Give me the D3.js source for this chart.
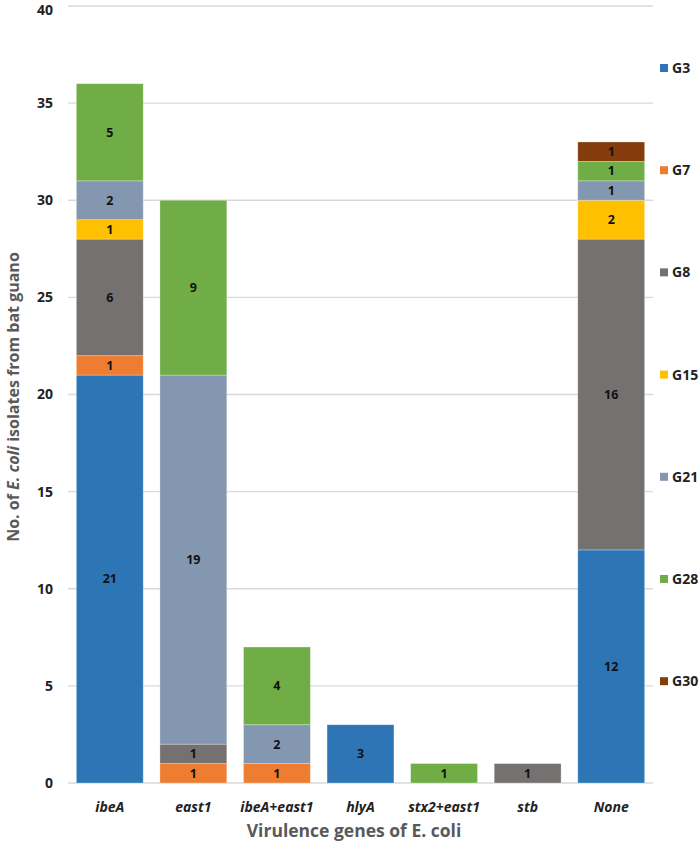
<!DOCTYPE html>
<html><head><meta charset="utf-8">
<script src="https://cdn.jsdelivr.net/npm/d3@7"></script>
<style>body{margin:0;background:#fff;} svg{display:block;font-family:"Open Sans","Liberation Sans",sans-serif;}</style>
</head><body>
<svg id="c" width="700" height="843"></svg>
<script>
const categories = ["ibeA","east1","ibeA+east1","hlyA","stx2+east1","stb","None"];
const seriesNames = ["G3","G7","G8","G15","G21","G28","G30"];
const G3  = [21, 0, 0, 3, 0, 0, 12];
const G7  = [1, 1, 1, 0, 0, 0, 0];
const G8  = [6, 1, 0, 0, 0, 1, 16];
const G15 = [1, 0, 0, 0, 0, 0, 2];
const G21 = [2, 19, 2, 0, 0, 0, 1];
const G28 = [5, 9, 4, 0, 1, 0, 1];
const G30 = [0, 0, 0, 0, 0, 0, 1];
const colors = ["#2E75B6","#ED7D31","#767171","#FFC000","#8497B0","#70AD47","#843C0C"];
const yTicks = [0,5,10,15,20,25,30,35,40];

const seriesVals = [G3,G7,G8,G15,G21,G28,G30];
const rows = categories.map((c,i)=>{const o={cat:c}; seriesNames.forEach((s,j)=>o[s]=seriesVals[j][i]); return o;});
const stack = d3.stack().keys(seriesNames)(rows);

const svg = d3.select("#c");
const x = d3.scaleBand().domain(categories).range([68,653]).paddingInner(0.2).paddingOuter(0.1);
const y = d3.scaleLinear().domain([0,40]).range([783,6]);

// gridlines
svg.append("g").selectAll("line").data(yTicks).join("line")
  .attr("x1",68).attr("x2",653).attr("y1",d=>y(d)).attr("y2",d=>y(d))
  .attr("stroke","#d9d9d9").attr("stroke-width",1.3);

// y tick labels
svg.append("g").selectAll("text").data(yTicks).join("text")
  .attr("x",53).attr("y",d=>Math.max(y(d),10)).attr("dy","0.35em").attr("text-anchor","end")
  .attr("font-size",14).attr("font-weight","bold").attr("fill","#222").text(d=>d);

// bars
const layers = svg.append("g").selectAll("g").data(stack).join("g").attr("fill",(d,i)=>colors[i]);
layers.selectAll("rect").data(d=>d.filter(p=>p[1]-p[0]>0)).join("rect")
  .attr("x",d=>x(d.data.cat)).attr("width",x.bandwidth())
  .attr("y",d=>y(d[1])).attr("height",d=>y(d[0])-y(d[1]))
  .attr("stroke","#ffffff").attr("stroke-opacity",0.35).attr("stroke-width",0.8);

// value labels
const lab = svg.append("g");
stack.forEach(layer=>{
  layer.forEach(p=>{
    const v = p[1]-p[0];
    if(v>0){
      lab.append("text").attr("x",x(p.data.cat)+x.bandwidth()/2).attr("y",(y(p[0])+y(p[1]))/2)
        .attr("dy","0.35em").attr("text-anchor","middle").attr("font-size",12.5).attr("font-weight","bold")
        .attr("fill","#111").text(v);
    }
  });
});

// x labels
svg.append("g").selectAll("text").data(categories).join("text")
  .attr("x",d=>x(d)+x.bandwidth()/2).attr("y",807).attr("dy","0.35em").attr("text-anchor","middle")
  .attr("font-size",14).attr("font-weight","bold").attr("font-style","italic").attr("fill","#222").text(d=>d);

// x title
svg.append("text").attr("x",354).attr("y",831).attr("dy","0.35em").attr("text-anchor","middle")
  .attr("font-size",17.5).attr("font-weight","bold").attr("fill","#595959").text("Virulence genes of E. coli");

// y title
const yt = svg.append("text").attr("transform","translate(13,397) rotate(-90)").attr("dy","0.35em")
  .attr("text-anchor","middle").attr("font-size",16).attr("font-weight","bold").attr("fill","#595959");
yt.append("tspan").text("No. of ");
yt.append("tspan").attr("font-style","italic").text("E. coli");
yt.append("tspan").text(" isolates from bat guano");

// legend
const leg = svg.append("g").selectAll("g").data(seriesNames).join("g")
  .attr("transform",(d,i)=>`translate(660,${68+i*102.2})`);
leg.append("rect").attr("x",0).attr("y",-4).attr("width",8).attr("height",8).attr("fill",(d,i)=>colors[i]);
leg.append("text").attr("x",12).attr("y",0).attr("dy","0.35em").attr("font-size",14).attr("font-weight","bold")
  .attr("fill","#222").text(d=>d);
</script>
</body></html>
